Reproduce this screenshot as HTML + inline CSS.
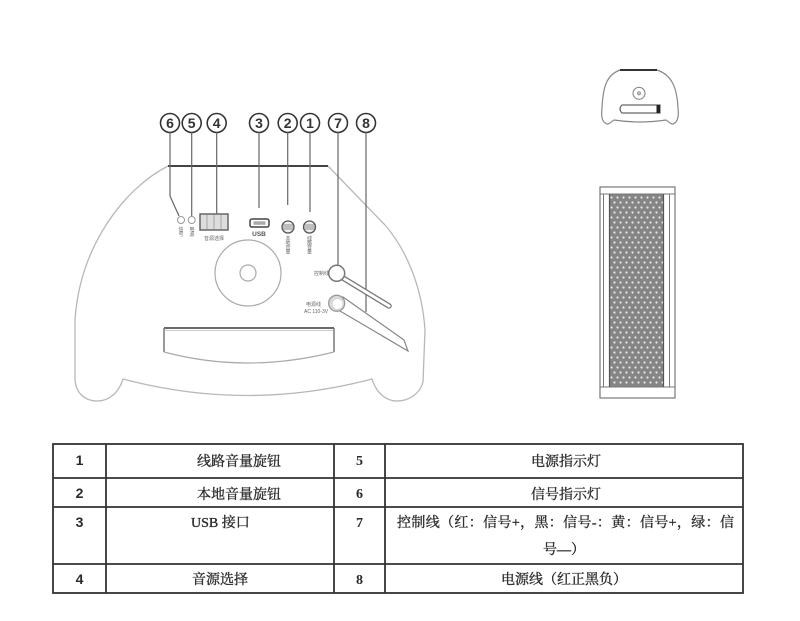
<!DOCTYPE html>
<html>
<head>
<meta charset="utf-8">
<style>
  html, body { margin:0; padding:0; background:#fff; }
  svg { display:block; }
  .cn { font-family:"Liberation Serif","Noto Serif CJK SC",serif; font-size:14px; font-weight:normal; fill:#262626; stroke:#333; stroke-width:0.35; }
  .nl { font-family:"Liberation Sans",sans-serif; font-size:14px; font-weight:bold; fill:#2a2a2a; }
  .nr { font-family:"Liberation Serif",serif; font-size:14px; font-weight:bold; fill:#2a2a2a; }
  .cn-num { font-family:"Liberation Sans",sans-serif; font-size:14px; font-weight:bold; fill:#333; }
  .tiny { font-family:"Liberation Sans","Noto Sans CJK SC",sans-serif; font-size:5px; fill:#666; }
</style>
</head>
<body>
<svg width="800" height="621" viewBox="0 0 800 621" xmlns="http://www.w3.org/2000/svg">
  <defs>
    <pattern id="grill" width="6" height="10" patternUnits="userSpaceOnUse" x="610" y="195">
      <rect width="6" height="10" fill="#858585"/>
      <circle cx="1.5" cy="2.5" r="1.1" fill="#e8e8e8"/>
      <circle cx="4.5" cy="7.5" r="1.1" fill="#e8e8e8"/>
    </pattern>
  </defs>
  <rect width="800" height="621" fill="#fff"/>

  <!-- ===== Main device (front panel) ===== -->
  <path d="M168,166 C125,188 80,245 75,320 L75,378 C75,393 85,401 97,401 C110,401 119,392 123,379 Q247,412 372,379 C376,392 385,401 397,401 C410,401 420,393 423,382 L425,330 C422,285 405,248 385,225 L328,166"
        fill="none" stroke="#b8b8b8" stroke-width="1.3"/>
  <line x1="168" y1="166" x2="328" y2="166" stroke="#444" stroke-width="2"/>

  <!-- bottom slot -->
  <line x1="164" y1="328" x2="334" y2="328" stroke="#555" stroke-width="1.8"/>
  <line x1="165" y1="330.5" x2="333" y2="330.5" stroke="#bbb" stroke-width="0.8"/>
  <line x1="164" y1="328" x2="164" y2="352" stroke="#777" stroke-width="1.5"/>
  <line x1="334" y1="328" x2="334" y2="352" stroke="#777" stroke-width="1.5"/>
  <path d="M164,352 Q247,374 334,352" fill="none" stroke="#aaa" stroke-width="1.2"/>

  <!-- big speaker circle -->
  <circle cx="248" cy="273" r="33" fill="none" stroke="#aaa" stroke-width="1.2"/>
  <circle cx="248" cy="273" r="8" fill="none" stroke="#aaa" stroke-width="1.2"/>

  <!-- circled numbers -->
  <g stroke="#333" stroke-width="1.6" fill="#fff">
    <circle cx="170" cy="123" r="9.5"/>
    <circle cx="191.7" cy="123" r="9.5"/>
    <circle cx="216.7" cy="123" r="9.5"/>
    <circle cx="259" cy="123" r="9.5"/>
    <circle cx="287.7" cy="123" r="9.5"/>
    <circle cx="310" cy="123" r="9.5"/>
    <circle cx="338" cy="123" r="9.5"/>
    <circle cx="366" cy="123" r="9.5"/>
  </g>
  <g class="cn-num" text-anchor="middle">
    <text x="170" y="128">6</text>
    <text x="191.7" y="128">5</text>
    <text x="216.7" y="128">4</text>
    <text x="259" y="128">3</text>
    <text x="287.7" y="128">2</text>
    <text x="310" y="128">1</text>
    <text x="338" y="128">7</text>
    <text x="366" y="128">8</text>
  </g>

  <!-- leader lines -->
  <g stroke="#666" stroke-width="1.2" fill="none">
    <path d="M170,132.5 L170,196 L179,216"/>
    <path d="M191.7,132.5 L191.7,216"/>
    <path d="M216.7,132.5 L216.7,214"/>
    <path d="M259,132.5 L259,208"/>
    <path d="M287.7,132.5 L287.7,205"/>
    <path d="M310,132.5 L310,212"/>
    <path d="M338,132.5 L338,265"/>
    <path d="M366,132.5 L366,312"/>
  </g>

  <!-- LEDs -->
  <circle cx="181" cy="220" r="3.5" fill="#fff" stroke="#999" stroke-width="1"/>
  <circle cx="191.7" cy="220" r="3.5" fill="#fff" stroke="#999" stroke-width="1"/>
  <text class="tiny" x="181" y="231" text-anchor="middle">信</text>
  <text class="tiny" x="181" y="236" text-anchor="middle">号</text>
  <text class="tiny" x="192" y="231" text-anchor="middle">电</text>
  <text class="tiny" x="192" y="236" text-anchor="middle">源</text>

  <!-- source select box -->
  <rect x="200" y="214" width="28" height="16" fill="#ddd" stroke="#666" stroke-width="1.5"/>
  <g stroke="#999" stroke-width="0.8">
    <line x1="207" y1="215" x2="207" y2="229"/>
    <line x1="214" y1="215" x2="214" y2="229"/>
    <line x1="221" y1="215" x2="221" y2="229"/>
  </g>
  <text class="tiny" x="214" y="240" text-anchor="middle">音源选择</text>

  <!-- USB -->
  <rect x="250" y="219" width="19" height="8" rx="2" fill="#fff" stroke="#444" stroke-width="1.5"/>
  <rect x="253.5" y="221.3" width="12" height="3.5" fill="#aaa"/>
  <text x="259" y="236" text-anchor="middle" font-family="Liberation Sans,sans-serif" font-size="6.5" font-weight="bold" fill="#555">USB</text>

  <!-- knobs -->
  <g stroke="#555" stroke-width="1.3" fill="#eee">
    <circle cx="288" cy="227" r="6"/>
    <circle cx="309.5" cy="227" r="6"/>
  </g>
  <g stroke="#777" stroke-width="0.8">
    <line x1="283" y1="225" x2="293" y2="225"/>
    <line x1="282.5" y1="227" x2="293.5" y2="227"/>
    <line x1="283" y1="229" x2="293" y2="229"/>
    <line x1="304.5" y1="225" x2="314.5" y2="225"/>
    <line x1="304" y1="227" x2="315" y2="227"/>
    <line x1="304.5" y1="229" x2="314.5" y2="229"/>
  </g>
  <g class="tiny" text-anchor="middle" font-size="4.5">
    <text x="288" y="240">本</text><text x="288" y="244.5">地</text><text x="288" y="249">音</text><text x="288" y="253.5">量</text>
    <text x="309.5" y="240">线</text><text x="309.5" y="244.5">路</text><text x="309.5" y="249">音</text><text x="309.5" y="253.5">量</text>
  </g>

  <!-- control line -->
  <line x1="343" y1="278" x2="389" y2="306" stroke="#777" stroke-width="5.5" stroke-linecap="round"/>
  <line x1="343" y1="278" x2="389" y2="306" stroke="#fff" stroke-width="3" stroke-linecap="round"/>
  <circle cx="336.7" cy="273.3" r="8" fill="#fff" stroke="#777" stroke-width="1.5"/>
  <text class="tiny" x="314" y="275">控制线</text>

  <!-- power line -->
  <polygon points="343,297 404,340 408,351 340,311" fill="#fff" stroke="#888" stroke-width="1.2"/>
  <circle cx="336.7" cy="303.3" r="8" fill="#ddd" stroke="#999" stroke-width="1.3"/>
  <circle cx="337.5" cy="304" r="5.5" fill="#fff" stroke="#ccc" stroke-width="0.8"/>
  <text class="tiny" x="306" y="306">电源线</text>
  <text class="tiny" x="304" y="313" font-size="3.5">AC 110-3V</text>

  <!-- ===== Small dome (side view) ===== -->
  <path d="M620,70 C606,75 603,88 602,108 C601,117 602,122 607,124 C610,124 612,121 614,120 Q639,124 666,120 C668,121 670,124 673,124 C678,122 679,116 678,108 C677,88 672,75 657,70"
        fill="none" stroke="#888" stroke-width="1.2"/>
  <line x1="620" y1="70" x2="657" y2="70" stroke="#333" stroke-width="2"/>
  <circle cx="639" cy="93.3" r="6" fill="none" stroke="#888" stroke-width="1.1"/>
  <circle cx="639" cy="93.3" r="1.8" fill="#bbb" stroke="#888" stroke-width="0.6"/>
  <path d="M622,105 L660,105 L660,113 L622,113 Q618,109 622,105 Z" fill="#fff" stroke="#666" stroke-width="1.2"/>
  <rect x="656.5" y="105" width="3.5" height="8" fill="#222"/>

  <!-- ===== Tall column ===== -->
  <rect x="609.5" y="194" width="54" height="193" fill="url(#grill)"/>
  <rect x="600" y="187" width="75" height="211" fill="none" stroke="#777" stroke-width="1.2"/>
  <g stroke="#777" stroke-width="1">
    <line x1="600" y1="194" x2="675" y2="194"/>
    <line x1="600" y1="387" x2="675" y2="387"/>
    <line x1="603.5" y1="194" x2="603.5" y2="387"/>
    <line x1="669.5" y1="194" x2="669.5" y2="387"/>
  </g>
  <g stroke="#555" stroke-width="1.2">
    <line x1="609.5" y1="194" x2="609.5" y2="387"/>
    <line x1="663.5" y1="194" x2="663.5" y2="387"/>
  </g>

  <!-- ===== Table ===== -->
  <g stroke="#333" stroke-width="1.8" fill="none">
    <rect x="53" y="444" width="690" height="149"/>
    <line x1="53" y1="478" x2="743" y2="478"/>
    <line x1="53" y1="507" x2="743" y2="507"/>
    <line x1="53" y1="564" x2="743" y2="564"/>
    <line x1="106" y1="444" x2="106" y2="593"/>
    <line x1="334" y1="444" x2="334" y2="593"/>
    <line x1="385" y1="444" x2="385" y2="593"/>
  </g>

  <g class="nl" text-anchor="middle">
    <text x="79.5" y="465">1</text>
    <text x="79.5" y="498">2</text>
    <text x="79.5" y="527">3</text>
    <text x="79.5" y="584">4</text>
  </g>
  <g class="nr" text-anchor="middle">
    <text x="359.5" y="465">5</text>
    <text x="359.5" y="498">6</text>
    <text x="359.5" y="527">7</text>
    <text x="359.5" y="584">8</text>
  </g>

  <g class="cn">
    <text x="197" y="466">线路音量旋钮</text>
    <text x="197" y="499">本地音量旋钮</text>
    <text x="191" y="527">USB 接口</text>
    <text x="192" y="584">音源选择</text>
    <text x="566" y="466" text-anchor="middle">电源指示灯</text>
    <text x="566" y="499" text-anchor="middle">信号指示灯</text>
    <text x="397" y="527" textLength="337" lengthAdjust="spacing">控制线（红：信号+，黑：信号-：黄：信号+，绿：信</text>
    <text x="564" y="554" text-anchor="middle">号—）</text>
    <text x="564" y="584" text-anchor="middle">电源线（红正黑负）</text>
  </g>
</svg>
</body>
</html>
